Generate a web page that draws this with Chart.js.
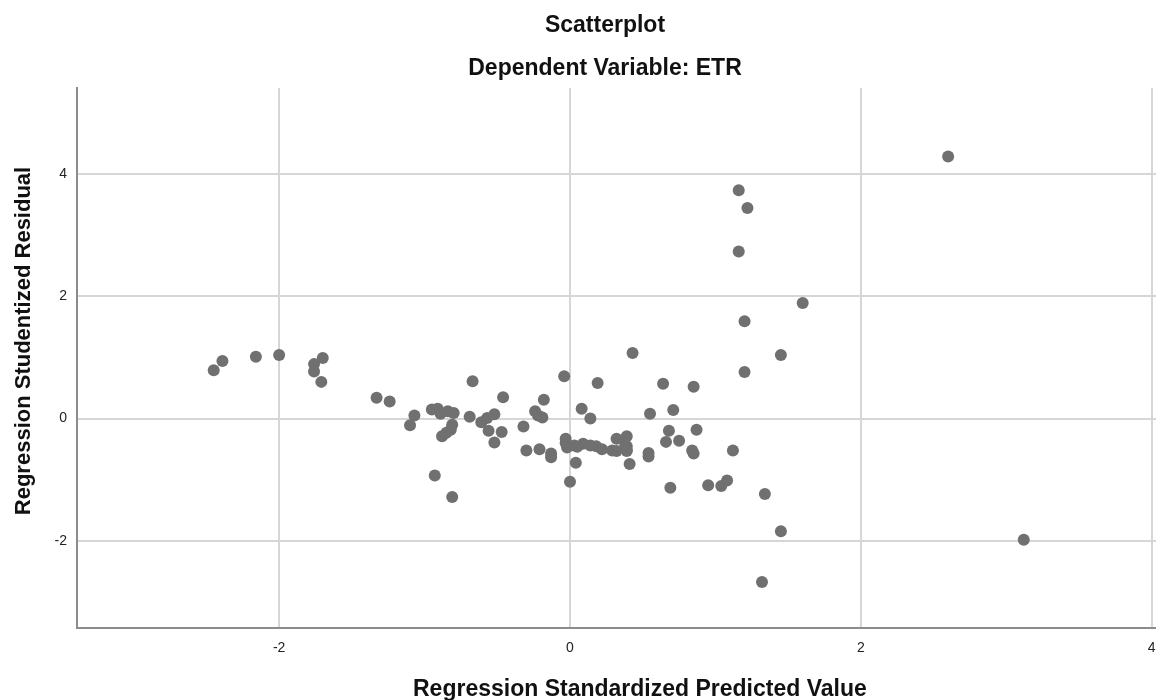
<!DOCTYPE html>
<html lang="en">
<head>
  <meta charset="UTF-8" />
  <title>Scatterplot</title>
  <script src="https://cdn.jsdelivr.net/npm/chart.js"></script>
  <style>
    html, body {
      margin: 0;
      padding: 0;
      background: #fff;
      overflow: hidden;
    }
    .wrap {
      width: 1156px;
      height: 700px;
      overflow: hidden;
      position: relative;
    }
    canvas {
      display: block;
    }
  </style>
</head>
<body>
  <div class="wrap">
    <canvas id="scatter" width="1260" height="700"></canvas>
  </div>

  <script>
    // standardized predicted values (x) and studentized residuals (y)
    const predicted = [
      -2.45, -2.39, -2.16, -2.00, -1.76, -1.76, -1.70, -1.71, -1.33, -1.24,
      -1.07, -1.10, -0.95, -0.91, -0.89, -0.84, -0.80, -0.81, -0.82, -0.85,
      -0.88, -0.93, -0.81, -0.69, -0.67, -0.61, -0.57, -0.52, -0.56, -0.47,
      -0.52, -0.46, -0.32, -0.24, -0.22, -0.19, -0.18, -0.30, -0.21, -0.13,
      -0.13, -0.04, -0.03, -0.03, -0.02, 0.00, 0.04, 0.03, 0.09, 0.14,
      0.18, 0.22, 0.29, 0.32, 0.39, 0.39, 0.39, 0.32, 0.41, 0.08,
      0.14, 0.19, 0.43, -0.02, 0.05, 0.38, 0.39, 0.55, 0.54, 0.54,
      0.64, 0.71, 0.68, 0.66, 0.75, 0.69, 0.85, 0.87, 0.84, 0.85,
      0.95, 1.04, 1.08, 1.12, 1.20, 1.34, 1.45, 1.16, 1.22, 1.16,
      1.60, 1.20, 1.32, 1.45, 2.60, 3.12
    ];
    const residuals = [
      0.79, 0.94, 1.01, 1.04, 0.89, 0.77, 0.99, 0.60, 0.34, 0.28,
      0.05, -0.11, 0.15, 0.16, 0.08, 0.12, 0.09, -0.10, -0.18, -0.23,
      -0.29, -0.93, -1.28, 0.03, 0.61, -0.06, 0.01, 0.07, -0.20, -0.22,
      -0.39, 0.35, -0.13, 0.12, 0.05, 0.02, 0.31, -0.52, -0.50, -0.57,
      -0.63, 0.69, -0.33, -0.40, -0.43, -1.03, -0.72, -0.44, -0.41, -0.44,
      -0.45, -0.50, -0.52, -0.53, -0.53, -0.45, -0.29, -0.33, -0.74, 0.16,
      0.00, 0.58, 1.07, -0.47, -0.46, -0.43, -0.51, 0.08, -0.56, -0.62,
      0.57, 0.14, -0.20, -0.38, -0.36, -1.13, 0.52, -0.18, -0.52, -0.57,
      -1.09, -1.10, -1.01, -0.52, 0.76, -1.23, 1.04, 3.73, 3.44, 2.73,
      1.89, 1.59, -2.67, -1.84, 4.28, -1.98
    ];
    const xTicks = [-2, 0, 2, 4];
    const yTicks = [-2, 0, 2, 4];

    const titleLines = ['Scatterplot', 'Dependent Variable: ETR'];
    const xTitle = 'Regression Standardized Predicted Value';
    const yTitle = 'Regression Studentized Residual';

    const FONT = '"Liberation Sans", Arial, sans-serif';

    // SPSS style titles, placed by hand
    const titlesPlugin = {
      id: 'spssTitles',
      afterDraw(chart) {
        const ctx = chart.ctx;
        ctx.save();
        ctx.fillStyle = '#111';
        ctx.font = 'bold 23px ' + FONT;
        ctx.textAlign = 'center';
        ctx.textBaseline = 'alphabetic';
        ctx.fillText(titleLines[0], 605, 32);
        ctx.fillText(titleLines[1], 605, 75);

        ctx.textAlign = 'left';
        ctx.fillText(xTitle, 413, 696);

        ctx.translate(30, 341);
        ctx.rotate(-Math.PI / 2);
        ctx.font = 'bold 22px ' + FONT;
        ctx.textAlign = 'center';
        ctx.fillText(yTitle, 0, 0);
        ctx.restore();
      }
    };

    function renderChart() {
      const points = predicted.map((x, i) => ({ x: x, y: residuals[i] }));

      new Chart(document.getElementById('scatter'), {
        type: 'scatter',
        data: {
          datasets: [{
            data: points,
            backgroundColor: '#707070',
            borderWidth: 0,
            pointRadius: 6,
            pointHoverRadius: 6
          }]
        },
        options: {
          responsive: false,
          animation: false,
          layout: {
            padding: { top: 88, left: 0, right: 21, bottom: 0 }
          },
          plugins: {
            legend: { display: false },
            tooltip: { enabled: false }
          },
          scales: {
            x: {
              type: 'linear',
              min: -3.39,
              max: 4.6,
              afterBuildTicks: (scale) => { scale.ticks = xTicks.map(v => ({ value: v })); },
              afterFit: (scale) => { scale.height = 72; },
              ticks: {
                color: '#222',
                font: { family: FONT, size: 14 },
                padding: 12,
                maxRotation: 0
              },
              grid: { color: '#d6d6d6', lineWidth: 2, drawTicks: false },
              border: { color: '#8c8c8c', width: 2 }
            },
            y: {
              type: 'linear',
              min: -3.42,
              max: 5.4,
              afterBuildTicks: (scale) => { scale.ticks = yTicks.map(v => ({ value: v })); },
              afterFit: (scale) => { scale.width = 77; },
              ticks: {
                color: '#222',
                font: { family: FONT, size: 14 },
                padding: 10
              },
              grid: { color: '#d6d6d6', lineWidth: 2, drawTicks: false },
              border: { color: '#8c8c8c', width: 2 }
            }
          }
        },
        plugins: [titlesPlugin]
      });
    }

    window.onload = renderChart;
  </script>
</body>
</html>
